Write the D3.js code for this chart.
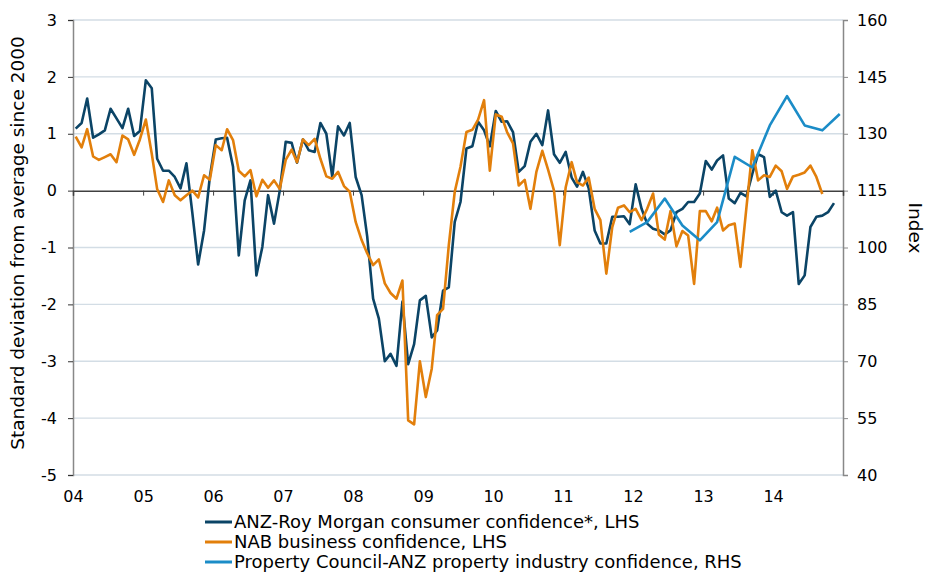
<!DOCTYPE html>
<html>
<head>
<meta charset="utf-8">
<script src="https://cdn.jsdelivr.net/npm/d3@7"></script>
<style>
    body { margin: 0; background: #fff; }
    svg text { font-family: 'DejaVu Sans', Verdana, sans-serif; fill: #000; }
</style>
</head>
<body>
<div id="chart"></div>
<script>
    // monthly, standard deviations from average since 2000
    var consumerStart = "2004-01";
    var consumer = [1.09, 1.19, 1.62, 0.93, 0.99, 1.06, 1.44, 1.27, 1.10, 1.44, 0.96, 1.05,
        1.94, 1.80, 0.56, 0.35, 0.35, 0.24, 0.04, 0.48, -0.40, -1.30, -0.70, 0.24,
        0.90, 0.92, 0.93, 0.42, -1.14, -0.17, 0.18, -1.49, -0.99, -0.08, -0.58, 0.00,
        0.86, 0.84, 0.49, 0.90, 0.71, 0.68, 1.19, 1.00, 0.24, 1.13, 0.97, 1.19,
        0.24, -0.08, -0.80, -1.90, -2.25, -3.00, -2.87, -3.08, -1.95, -3.05, -2.70, -1.93,
        -1.85, -2.58, -2.46, -1.76, -1.70, -0.55, -0.20, 0.74, 0.78, 1.21, 1.06, 0.78,
        1.40, 1.21, 1.22, 1.03, 0.33, 0.43, 0.86, 1.00, 0.80, 1.41, 0.64, 0.49,
        0.68, 0.23, 0.07, 0.33, 0.04, -0.70, -0.93, -0.93, -0.46, -0.46, -0.45, -0.59,
        0.11, -0.32, -0.58, -0.67, -0.70, -0.77, -0.70, -0.38, -0.32, -0.20, -0.20, -0.05,
        0.52, 0.37, 0.53, 0.62, -0.14, -0.22, -0.04, -0.10, 0.30, 0.64, 0.59, -0.11,
        0.00, -0.38, -0.44, -0.38, -1.64, -1.49, -0.64, -0.46, -0.44, -0.38, -0.22];

    var businessStart = "2004-01";
    var business = [0.95, 0.76, 1.08, 0.60, 0.54, 0.59, 0.64, 0.50, 0.97, 0.90, 0.63, 0.90,
        1.25, 0.65, 0.03, -0.20, 0.18, -0.08, -0.17, -0.08, 0.00, -0.12, 0.27, 0.19,
        0.80, 0.71, 1.08, 0.89, 0.35, 0.25, 0.36, -0.10, 0.19, 0.05, 0.18, 0.03,
        0.54, 0.72, 0.50, 0.90, 0.80, 0.91, 0.56, 0.25, 0.21, 0.33, 0.08, -0.02,
        -0.55, -0.87, -1.10, -1.31, -1.21, -1.63, -1.80, -1.90, -1.58, -4.04, -4.11, -3.00,
        -3.63, -3.13, -2.19, -2.08, -0.96, -0.02, 0.42, 1.03, 1.07, 1.25, 1.59, 0.35,
        1.34, 1.30, 1.03, 0.83, 0.09, 0.19, -0.32, 0.33, 0.70, 0.37, 0.00, -0.96,
        0.06, 0.50, 0.15, 0.09, 0.23, -0.32, -0.52, -1.46, -0.64, -0.30, -0.26, -0.38,
        -0.32, -0.52, -0.32, -0.05, -0.77, -0.86, -0.36, -0.98, -0.71, -0.79, -1.64, -0.36,
        -0.36, -0.54, -0.30, -0.70, -0.61, -0.58, -1.34, -0.30, 0.71, 0.18, 0.27, 0.24,
        0.44, 0.34, 0.03, 0.25, 0.28, 0.32, 0.44, 0.24, -0.06];

    // quarterly index
    var propertyStart = "2011-12";
    var property = [104.1, 106.7, 112.9, 105.8, 101.9, 106.7, 123.9, 121.1, 132.2, 139.9, 132.2, 130.9, 135.2];

    var yearLabels = ["04", "05", "06", "07", "08", "09", "10", "11", "12", "13", "14"];
    var leftTicks = [3, 2, 1, 0, -1, -2, -3, -4, -5];
    var rightTicks = [160, 145, 130, 115, 100, 85, 70, 55, 40];

    var seriesNames = ["ANZ-Roy Morgan consumer confidence*, LHS",
        "NAB business confidence, LHS",
        "Property Council-ANZ property industry confidence, RHS"];
    var seriesColors = ["#0b4466", "#e27f0b", "#1b8cc7"];

    var margin = { top: 20, right: 85, bottom: 99, left: 73 },
        width = 928 - margin.left - margin.right,
        height = 574 - margin.top - margin.bottom;

    var parseMonth = d3.timeParse("%Y-%m");

    // mid-month points, step in months
    function toPoints(start, values, step) {
        var s = parseMonth(start);
        return values.map(function (v, i) {
            var d = d3.timeMonth.offset(s, i * step);
            return { date: d3.timeDay.offset(d, 14), value: v };
        });
    }

    var consumerData = toPoints(consumerStart, consumer, 1),
        businessData = toPoints(businessStart, business, 1),
        propertyData = toPoints(propertyStart, property, 3);

    var xScale = d3.scaleTime()
        .domain([new Date(2004, 0, 1), new Date(2015, 0, 1)])
        .range([0, width]);
    var yLeft = d3.scaleLinear().domain([-5, 3]).range([height, 0]);
    var yRight = d3.scaleLinear().domain([40, 160]).range([height, 0]);

    var svg = d3.select("#chart").append("svg")
        .attr("width", 928)
        .attr("height", 574)
        .append("g")
        .attr("transform", "translate(" + margin.left + "," + margin.top + ")");

    // gridlines
    svg.append("g")
        .selectAll("line")
        .data(leftTicks.filter(function (d) { return d !== 0; }))
        .enter().append("line")
        .attr("x1", 0)
        .attr("x2", width)
        .attr("y1", function (d) { return yLeft(d); })
        .attr("y2", function (d) { return yLeft(d); })
        .style("stroke", "#d3dde5")
        .style("stroke-width", 1.3);

    // left axis
    var gLeft = svg.append("g")
        .call(d3.axisLeft(yLeft).tickValues(leftTicks).tickSize(5).tickPadding(11)
            .tickFormat(function (d) { return String(d); }));
    gLeft.select(".domain").style("stroke", "#888").style("stroke-width", 1.5);
    gLeft.selectAll(".tick line").style("stroke", "#333");
    gLeft.selectAll("text").style("font-size", "16px").style("fill", "#000");

    // right axis
    var gRight = svg.append("g")
        .attr("transform", "translate(" + width + ",0)")
        .call(d3.axisRight(yRight).tickValues(rightTicks).tickSize(5).tickPadding(9));
    gRight.select(".domain").style("stroke", "#888").style("stroke-width", 1.5);
    gRight.selectAll(".tick line").style("stroke", "#888");
    gRight.selectAll("text").style("font-size", "16px").style("fill", "#000");

    // x axis on the zero line, ticks only
    var years = d3.range(2004, 2016).map(function (y) { return new Date(y, 0, 1); });
    var gZero = svg.append("g")
        .attr("transform", "translate(0," + yLeft(0) + ")")
        .call(d3.axisBottom(xScale).tickValues(years).tickSize(5).tickFormat(""));
    gZero.select(".domain").style("stroke", "#404040").style("stroke-width", 1.5);
    gZero.selectAll(".tick line").style("stroke", "#404040");

    // year labels at the bottom
    var gBottom = svg.append("g")
        .attr("transform", "translate(0," + height + ")")
        .call(d3.axisBottom(xScale).tickValues(years.slice(0, yearLabels.length)).tickSize(0).tickPadding(16)
            .tickFormat(function (d, i) { return yearLabels[i]; }));
    gBottom.select(".domain").remove();
    gBottom.selectAll("text").style("font-size", "16px").style("fill", "#000");

    // lines
    var lineLeft = d3.line()
        .x(function (d) { return xScale(d.date); })
        .y(function (d) { return yLeft(d.value); });
    var lineRight = d3.line()
        .x(function (d) { return xScale(d.date); })
        .y(function (d) { return yRight(d.value); });

    [[consumerData, lineLeft], [businessData, lineLeft], [propertyData, lineRight]].forEach(function (s, i) {
        svg.append("path")
            .datum(s[0])
            .attr("d", s[1])
            .style("fill", "none")
            .style("stroke", seriesColors[i])
            .style("stroke-width", 2.6)
            .style("stroke-linejoin", "round");
    });

    //y labels
    svg.append("text")
        .attr("transform", "translate(" + (18 - margin.left) + "," + 223 + ") rotate(-90)")
        .attr("dy", "0.35em")
        .style("text-anchor", "middle")
        .style("font-size", "18.5px")
        .text("Standard deviation from average since 2000");

    svg.append("text")
        .attr("transform", "translate(" + (915 - margin.left) + "," + 208 + ") rotate(90)")
        .attr("dy", "0.35em")
        .style("text-anchor", "middle")
        .style("font-size", "18.5px")
        .text("Index");

    // legend
    var legend = svg.append("g")
        .attr("transform", "translate(" + (205 - margin.left) + "," + (522 - margin.top) + ")");
    seriesNames.forEach(function (name, i) {
        var row = legend.append("g").attr("transform", "translate(0," + (i * 20) + ")");
        row.append("line")
            .attr("x1", 0).attr("x2", 27)
            .style("stroke", seriesColors[i])
            .style("stroke-width", 3);
        row.append("text")
            .attr("x", 29)
            .attr("dy", "0.35em")
            .style("font-size", "18px")
            .text(name);
    });
</script>
</body>
</html>
